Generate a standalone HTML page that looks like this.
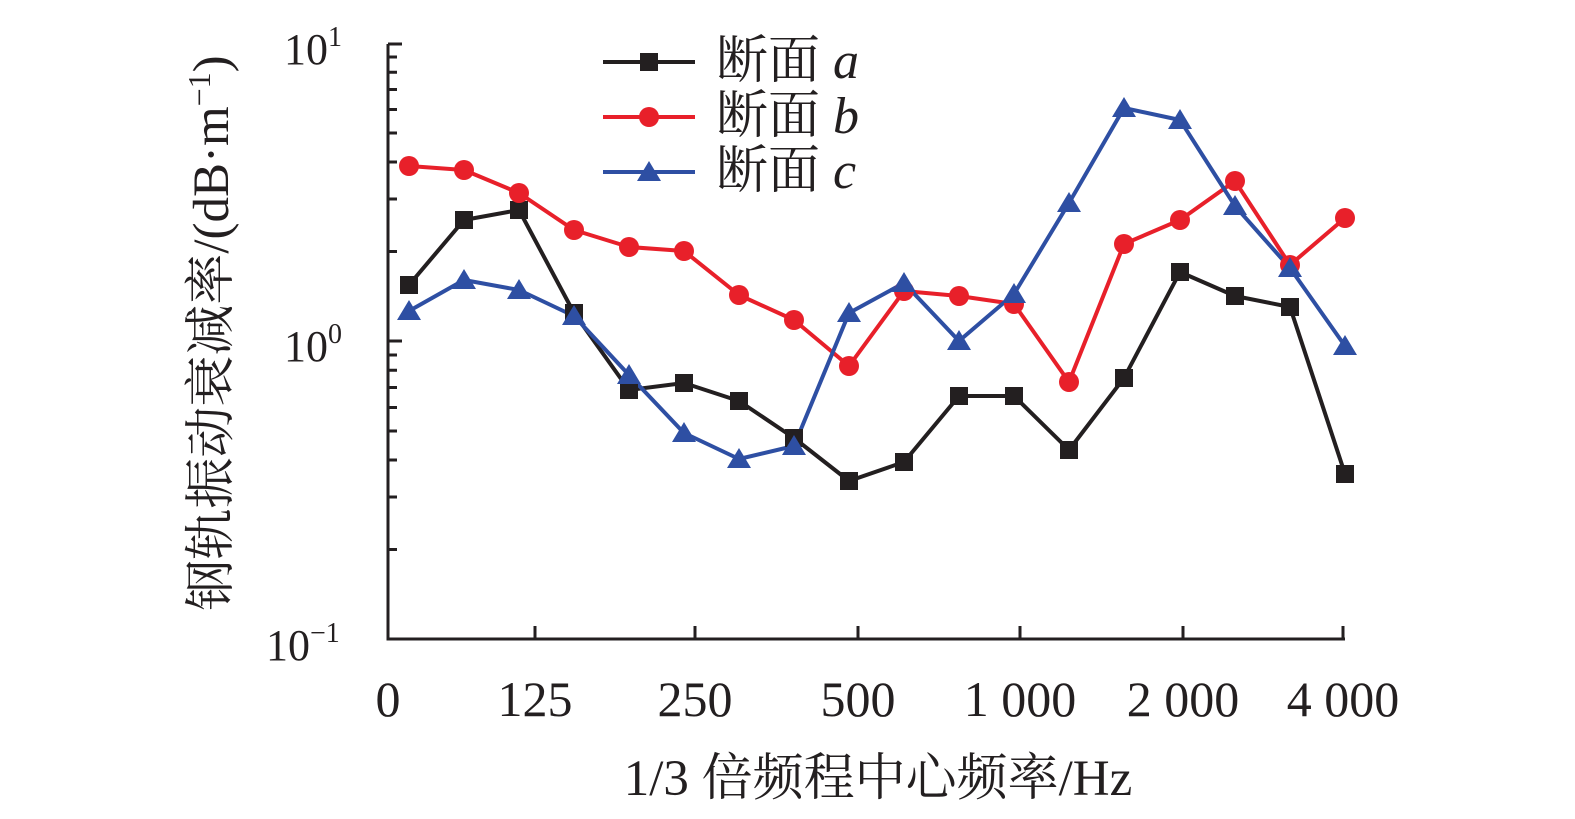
<!DOCTYPE html>
<html><head><meta charset="utf-8"><style>
body{margin:0;background:#fff;}
svg{display:block;}
text{font-family:"Liberation Serif","Noto Serif CJK SC",serif;fill:#231f20;}
</style></head><body>
<svg width="1575" height="819" viewBox="0 0 1575 819" xmlns="http://www.w3.org/2000/svg">
<g stroke="#231f20" stroke-width="3" fill="none">
<path d="M388,44 V639 H1345"/>
<path d="M388,44 H402 M388,341 H402 M388,57 H397 M388,72.3 H397 M388,89.5 H397 M388,109.5 H397 M388,133 H397 M388,162 H397 M388,199 H397 M388,251.5 H397 M388,355 H397 M388,370.3 H397 M388,387.5 H397 M388,407.5 H397 M388,431 H397 M388,460 H397 M388,497 H397 M388,549.5 H397"/>
<path d="M535,639 V626 M695,639 V626 M858,639 V626 M1020,639 V626 M1183,639 V626 M1343,639 V626"/>
</g>
<g font-size="44">
<text x="284" y="64">10<tspan font-size="28" dy="-18">1</tspan></text>
<text x="284" y="361">10<tspan font-size="28" dy="-18">0</tspan></text>
<text x="266" y="660">10<tspan font-size="28" dy="-18">−1</tspan></text>
</g>
<g font-size="50" text-anchor="middle">
<text x="388" y="716">0</text><text x="535" y="716">125</text><text x="695" y="716">250</text><text x="858" y="716">500</text><text x="1020" y="716">1 000</text><text x="1183" y="716">2 000</text><text x="1343" y="716">4 000</text>
<text x="878" y="795" font-size="51">1/3 倍频程中心频率/Hz</text>
<text transform="translate(228,333) rotate(-90)" font-size="51">钢轨振动衰减率/(dB·m<tspan font-size="32" dy="-18">−1</tspan><tspan dy="18">)</tspan></text>
</g>
<g fill="none" stroke-width="4" stroke-linejoin="round">
<polyline stroke="#231f20" points="409,285 464,220 519,210 574,313 629,390 684,383 739,401 794,438 849,481 904,462 959,396 1014,396 1069,450 1124,378 1180,272 1235,296 1290,307 1345,474"/>
<polyline stroke="#e8202a" points="409,166 464,170 519,193 574,230 629,247 684,251 739,295 794,320 849,366 904,291 959,296 1014,304 1069,382 1124,244 1180,220 1235,181 1290,265 1345,218"/>
<polyline stroke="#2e4fa3" points="409,311 464,280 519,290 574,316 629,375 684,433 739,459 794,446 849,313 904,283 959,341 1014,294 1069,203 1124,108 1180,120 1235,206 1290,268 1345,346"/>
<path stroke="#231f20" d="M603,62 H695"/><path stroke="#e8202a" d="M603,117 H695"/><path stroke="#2e4fa3" d="M603,172 H695"/>
</g>
<g fill="#231f20">
<rect x="400" y="276" width="18" height="18"/><rect x="455" y="211" width="18" height="18"/><rect x="510" y="201" width="18" height="18"/><rect x="565" y="304" width="18" height="18"/><rect x="620" y="381" width="18" height="18"/><rect x="675" y="374" width="18" height="18"/><rect x="730" y="392" width="18" height="18"/><rect x="785" y="429" width="18" height="18"/><rect x="840" y="472" width="18" height="18"/><rect x="895" y="453" width="18" height="18"/><rect x="950" y="387" width="18" height="18"/><rect x="1005" y="387" width="18" height="18"/><rect x="1060" y="441" width="18" height="18"/><rect x="1115" y="369" width="18" height="18"/><rect x="1171" y="263" width="18" height="18"/><rect x="1226" y="287" width="18" height="18"/><rect x="1281" y="298" width="18" height="18"/><rect x="1336" y="465" width="18" height="18"/>
<rect x="640" y="53" width="18" height="18"/>
</g>
<g fill="#e8202a">
<circle cx="409" cy="166" r="10"/><circle cx="464" cy="170" r="10"/><circle cx="519" cy="193" r="10"/><circle cx="574" cy="230" r="10"/><circle cx="629" cy="247" r="10"/><circle cx="684" cy="251" r="10"/><circle cx="739" cy="295" r="10"/><circle cx="794" cy="320" r="10"/><circle cx="849" cy="366" r="10"/><circle cx="904" cy="291" r="10"/><circle cx="959" cy="296" r="10"/><circle cx="1014" cy="304" r="10"/><circle cx="1069" cy="382" r="10"/><circle cx="1124" cy="244" r="10"/><circle cx="1180" cy="220" r="10"/><circle cx="1235" cy="181" r="10"/><circle cx="1290" cy="265" r="10"/><circle cx="1345" cy="218" r="10"/>
<circle cx="649" cy="117" r="10"/>
</g>
<g fill="#2e4fa3">
<path d="M409,300 l-12,20 h24z M464,269 l-12,20 h24z M519,279 l-12,20 h24z M574,305 l-12,20 h24z M629,364 l-12,20 h24z M684,422 l-12,20 h24z M739,448 l-12,20 h24z M794,435 l-12,20 h24z M849,302 l-12,20 h24z M904,272 l-12,20 h24z M959,330 l-12,20 h24z M1014,283 l-12,20 h24z M1069,192 l-12,20 h24z M1124,97 l-12,20 h24z M1180,109 l-12,20 h24z M1235,195 l-12,20 h24z M1290,257 l-12,20 h24z M1345,335 l-12,20 h24z M649,161 l-12,20 h24z"/>
</g>
<g font-size="52">
<text x="716" y="78">断面 <tspan font-style="italic">a</tspan></text>
<text x="716" y="133">断面 <tspan font-style="italic">b</tspan></text>
<text x="716" y="188">断面 <tspan font-style="italic">c</tspan></text>
</g>
</svg>
</body></html>
